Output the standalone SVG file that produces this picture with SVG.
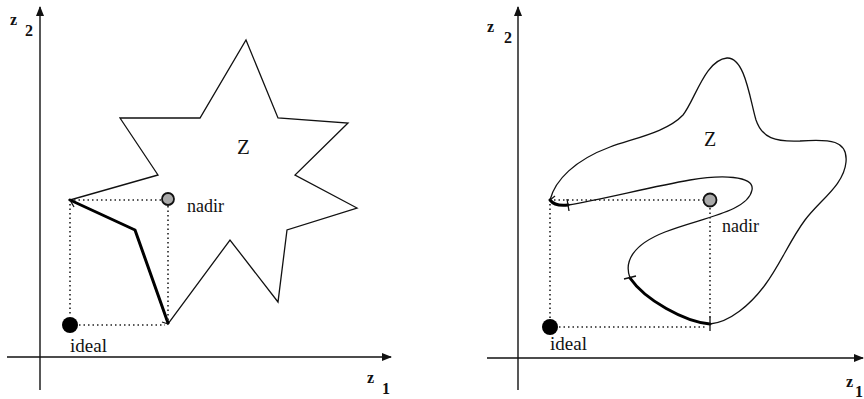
<svg xmlns="http://www.w3.org/2000/svg" width="864" height="399" viewBox="0 0 864 399">
<style>
.ax{stroke:#111;stroke-width:1.4;fill:none}
.thin{stroke:#111;stroke-width:1.3;fill:none;stroke-linejoin:miter}
.bold{stroke:#000;stroke-width:3;fill:none;stroke-linecap:round;stroke-linejoin:round}
.dot{stroke:#222;stroke-width:1.6;fill:none;stroke-dasharray:1.5 3}
.tick{stroke:#111;stroke-width:1.3;fill:none}
.t{font-family:"Liberation Serif","Times New Roman",serif;fill:#111}
.sub{font-family:"Liberation Serif","Times New Roman",serif;fill:#111;font-size:16px;font-weight:bold}
.nad{fill:#aaa;stroke:#111;stroke-width:1.8}
</style>
<defs>
<marker id="ah" viewBox="0 0 10 8" refX="9" refY="4" markerWidth="10" markerHeight="8" markerUnits="userSpaceOnUse" orient="auto">
<path d="M0,0 L10,4 L0,8 Z" fill="#111"/>
</marker>
</defs>
<rect width="864" height="399" fill="#fff"/>

<g id="left-axes">
<line class="ax" x1="40" y1="390" x2="40" y2="7" marker-end="url(#ah)"/>
<line class="ax" x1="7" y1="357" x2="391" y2="357" marker-end="url(#ah)"/>
<text class="sub" x="10" y="25">z</text>
<text class="sub" x="25" y="36">2</text>
<text class="sub" x="367" y="383">z</text>
<text class="sub" x="382" y="394">1</text>
</g>

<g id="left-star">
<polygon class="thin" points="246,40 278,118 348,123 295,175 357,208 287,230 278,302 230,240 168,324 135,230 70,200 158,175 120,118 200,118"/>
<polyline class="bold" points="70,200 135,230 168,323"/>
<text class="t" x="237" y="154" font-size="21">Z</text>
</g>

<g id="left-guides">
<line class="dot" x1="74" y1="200" x2="162" y2="200"/>
<line class="dot" x1="168" y1="206" x2="168" y2="320"/>
<line class="dot" x1="70" y1="204" x2="70" y2="316"/>
<line class="dot" x1="79" y1="325" x2="165" y2="325"/>
</g>

<g id="left-ticks">
<path class="tick" d="M70,200 L74,207"/>
<path class="tick" d="M168,324 L162,322"/>
</g>

<g id="left-nadir">
<circle class="nad" cx="168" cy="199" r="6"/>
<text class="t" x="187" y="212" font-size="18">nadir</text>
</g>

<g id="left-ideal">
<circle cx="70" cy="325" r="8" fill="#000"/>
<text class="t" x="70" y="352" font-size="19">ideal</text>
</g>

<g id="right-axes">
<line class="ax" x1="518" y1="390" x2="518" y2="7" marker-end="url(#ah)"/>
<line class="ax" x1="487" y1="358" x2="863" y2="358" marker-end="url(#ah)"/>
<text class="sub" x="487" y="32">z</text>
<text class="sub" x="504" y="43">2</text>
<text class="sub" x="846" y="387">z</text>
<text class="sub" x="855" y="397">1</text>
</g>

<g id="right-blob">
<path class="thin" d="M550,200 C555,180 575,160 610,147 C635,138 667,132 683,115 C695,100 705,60 727,58 C745,57 750,100 756,120 C762,138 775,142 800,141 C830,139 848,140 846,162 C844,185 820,200 805,220 C790,240 780,265 765,285 C750,305 730,322 710,324 C685,322 645,300 630,278 C624,262 632,245 665,232 C700,218 748,212 752,190 C755,175 720,175 690,180 C650,187 600,200 568,205 C560,206 552,204 550,200 Z"/>
<path class="bold" d="M710,324 C685,322 645,300 630,278"/>
<path class="bold" d="M568,205 C560,206 553,204 550,200"/>
<text class="t" x="704" y="146" font-size="20">Z</text>
</g>

<g id="right-guides">
<line class="dot" x1="554" y1="200" x2="703" y2="200"/>
<line class="dot" x1="710" y1="208" x2="710" y2="320"/>
<line class="dot" x1="550" y1="204" x2="550" y2="318"/>
<line class="dot" x1="559" y1="327" x2="706" y2="327"/>
</g>

<g id="right-ticks">
<path class="tick" d="M550,200 L555,196"/>
<path class="tick" d="M567,199 L569,211"/>
<path class="tick" d="M624,279 L636,276"/>
<path class="tick" d="M710,317 L710,331"/>
</g>

<g id="right-nadir">
<circle class="nad" cx="710" cy="200" r="6.5"/>
<text class="t" x="722" y="232" font-size="18">nadir</text>
</g>

<g id="right-ideal">
<circle cx="550" cy="327" r="8" fill="#000"/>
<text class="t" x="550" y="350" font-size="19">ideal</text>
</g>
</svg>
